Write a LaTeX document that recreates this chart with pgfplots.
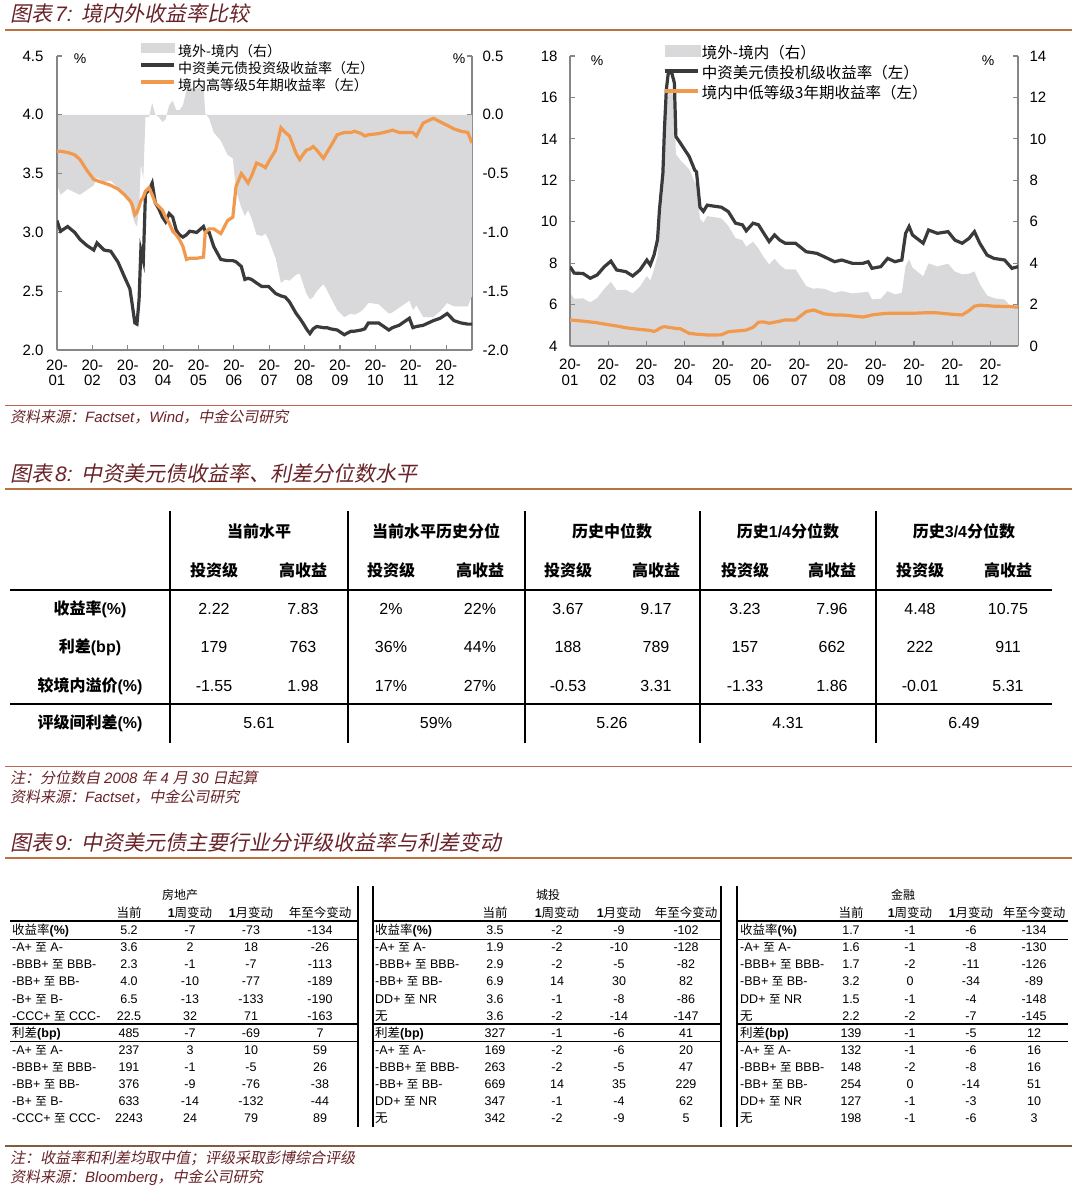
\documentclass[border=0pt]{standalone}
\usepackage{pgfplots}
\pgfplotsset{compat=1.18}
\usepackage{pgfplotstable}
\usepackage{fontspec}
\setmainfont{Liberation Sans}
\newfontfamily\cjk{Noto Sans CJK SC}
\newfontfamily\cjkit{Noto Sans CJK SC}[FakeSlant=0.2]
\definecolor{areagray}{RGB}{217,217,219}
\definecolor{blk}{RGB}{58,58,60}
\definecolor{org}{RGB}{241,154,78}
\definecolor{axgray}{RGB}{134,134,134}
\definecolor{ttl}{RGB}{105,35,40}
\definecolor{rulec}{RGB}{186,114,62}
\definecolor{rulef}{RGB}{192,100,84}
\definecolor{ruleb}{RGB}{128,92,66}

\pgfplotstableread{
m b o g
0.00 3.10 3.69 -0.59
0.10 3.01 3.69 -0.68
0.30 3.05 3.68 -0.63
0.50 3.00 3.66 -0.66
0.65 2.94 3.62 -0.68
0.84 2.89 3.53 -0.64
1.04 2.85 3.45 -0.60
1.13 2.91 3.44 -0.53
1.33 2.85 3.42 -0.57
1.52 2.84 3.40 -0.56
1.72 2.75 3.37 -0.62
1.91 2.62 3.32 -0.70
2.06 2.52 3.27 -0.75
2.12 2.40 3.24 -0.84
2.20 2.23 3.15 -0.92
2.26 2.22 3.17 -0.95
2.32 2.43 3.22 -0.79
2.37 2.85 3.27 -0.42
2.44 2.76 3.30 -0.54
2.50 3.33 3.35 -0.02
2.60 3.36 3.38 -0.02
2.69 3.42 3.32 0.10
2.78 3.25 3.25 0.00
2.88 3.20 3.22 -0.02
2.98 3.13 3.19 -0.06
3.07 3.09 3.13 -0.04
3.17 3.16 3.08 0.08
3.27 3.13 3.01 0.12
3.37 3.02 2.98 0.04
3.46 2.98 2.94 0.04
3.56 2.96 2.88 0.08
3.66 2.98 2.77 0.21
3.75 3.01 2.78 0.23
3.95 3.00 2.78 0.22
4.14 3.05 2.79 0.26
4.19 3.01 3.00 0.01
4.30 3.00 3.03 -0.03
4.43 2.88 3.03 -0.15
4.63 2.77 2.99 -0.22
4.82 2.76 3.10 -0.34
4.97 2.76 3.13 -0.37
5.06 2.75 3.39 -0.64
5.21 2.71 3.50 -0.79
5.31 2.60 3.46 -0.86
5.40 2.61 3.42 -0.81
5.50 2.60 3.48 -0.88
5.64 2.57 3.59 -1.02
5.79 2.54 3.57 -1.03
5.89 2.54 3.55 -1.01
5.98 2.54 3.60 -1.06
6.18 2.48 3.70 -1.22
6.33 2.46 3.89 -1.43
6.45 2.45 3.85 -1.40
6.57 2.41 3.82 -1.41
6.76 2.31 3.67 -1.36
6.86 2.27 3.62 -1.35
6.95 2.23 3.66 -1.43
7.05 2.18 3.70 -1.52
7.15 2.14 3.71 -1.57
7.24 2.18 3.73 -1.55
7.34 2.20 3.70 -1.50
7.53 2.19 3.63 -1.44
7.63 2.19 3.68 -1.49
7.73 2.18 3.73 -1.55
7.92 2.17 3.83 -1.66
8.12 2.13 3.85 -1.72
8.31 2.16 3.85 -1.69
8.41 2.16 3.86 -1.70
8.60 2.17 3.84 -1.67
8.70 2.18 3.82 -1.64
8.80 2.23 3.83 -1.60
9.09 2.23 3.84 -1.61
9.38 2.17 3.86 -1.69
9.48 2.19 3.87 -1.68
9.67 2.21 3.85 -1.64
9.96 2.27 3.85 -1.58
10.06 2.19 3.85 -1.66
10.16 2.20 3.82 -1.62
10.35 2.21 3.93 -1.72
10.64 2.25 3.97 -1.72
10.83 2.27 3.94 -1.67
11.03 2.31 3.91 -1.60
11.22 2.25 3.88 -1.63
11.42 2.23 3.86 -1.63
11.61 2.22 3.85 -1.63
11.73 2.22 3.76 -1.54
}\dataL

\pgfplotstableread{
m b o g
0.00 7.83 5.26 2.57
0.11 7.52 5.24 2.28
0.34 7.50 5.20 2.30
0.53 7.27 5.16 2.11
0.71 7.43 5.12 2.31
0.90 7.83 5.06 2.77
1.07 8.10 5.01 3.09
1.22 7.67 4.97 2.70
1.46 7.59 4.88 2.71
1.64 7.38 4.84 2.54
1.83 7.67 4.80 2.87
2.01 8.15 4.77 3.38
2.10 7.91 4.75 3.16
2.20 8.40 4.70 3.70
2.29 9.14 4.78 4.36
2.34 10.57 4.85 5.72
2.43 12.34 4.92 7.42
2.47 14.43 4.93 9.50
2.52 16.37 4.92 11.45
2.57 17.17 4.90 12.27
2.66 17.20 4.88 12.32
2.73 16.70 4.86 11.84
2.77 14.11 4.85 9.26
2.89 13.79 4.83 8.96
3.12 13.14 4.61 8.53
3.26 12.50 4.58 7.92
3.31 12.40 4.57 7.83
3.40 10.70 4.56 6.14
3.49 10.50 4.55 5.95
3.59 10.80 4.53 6.27
3.77 10.75 4.53 6.22
3.96 10.70 4.54 6.16
4.14 10.49 4.69 5.80
4.33 9.93 4.72 5.21
4.51 9.85 4.75 5.10
4.61 9.56 4.77 4.79
4.79 9.93 4.90 5.03
4.93 9.85 5.15 4.70
5.07 9.44 5.16 4.28
5.21 9.04 5.10 3.94
5.35 9.36 5.15 4.21
5.49 9.11 5.20 3.91
5.63 8.96 5.26 3.70
5.90 8.96 5.26 3.70
6.18 8.55 5.66 2.89
6.37 8.50 5.74 2.76
6.46 8.47 5.68 2.79
6.65 8.31 5.55 2.76
6.92 8.07 5.50 2.57
7.11 8.15 5.50 2.65
7.39 7.99 5.45 2.54
7.66 7.99 5.40 2.59
7.80 8.07 5.45 2.62
7.90 7.75 5.50 2.25
8.13 7.83 5.55 2.28
8.31 8.23 5.58 2.65
8.50 8.07 5.58 2.49
8.68 8.15 5.58 2.57
8.78 9.44 5.58 3.86
8.87 9.77 5.58 4.19
8.96 9.36 5.58 3.78
9.24 8.96 5.60 3.36
9.38 9.60 5.61 3.99
9.61 9.44 5.60 3.84
9.89 9.52 5.55 3.97
10.07 9.11 5.52 3.59
10.26 8.96 5.50 3.46
10.44 9.20 5.71 3.49
10.58 9.52 5.92 3.60
10.72 8.96 5.97 2.99
10.91 8.39 5.95 2.44
11.09 8.23 5.92 2.31
11.37 8.15 5.91 2.24
11.56 7.75 5.90 1.85
11.72 7.83 5.87 1.96
}\dataR

\pgfplotsset{
  chart/.style={
    scale only axis,
    anchor=south west,
    axis line style={-, axgray, line width=1.4pt},
    major tick style={axgray, line width=1.2pt},
    major tick length=5pt,
    tick align=inside,
    tick label style={font=\fontsize{15}{15}\selectfont, text=black},
    /pgf/number format/assume math mode=true,
  },
  mylegend/.style={
    legend cell align=left,
    legend image code/.code={\draw[##1, line width=4pt] (0pt,4.5pt) -- (33pt,4.5pt);},
    legend style={draw=none, fill=none, inner sep=0pt, outer sep=0pt},
  },
}

\newcommand\zhi{{\cjk\fontsize{11.5}{12}\selectfont 至}}
\newcommand\trow[6]{%
  \node[anchor=base west,inner sep=0pt] at (\tx,-#1pt) {#2};
  \node[anchor=base,inner sep=0pt] at (\ca,-#1pt) {#3};
  \node[anchor=base,inner sep=0pt] at (\cb,-#1pt) {#4};
  \node[anchor=base,inner sep=0pt] at (\cc,-#1pt) {#5};
  \node[anchor=base,inner sep=0pt] at (\cd,-#1pt) {#6};}

\begin{document}
\begin{tikzpicture}
\useasboundingbox (0pt,0pt) rectangle (1080pt,-1188pt);
\fill[white] (0pt,0pt) rectangle (1080pt,-1188pt);

% ---------------- titles and rules ----------------
\node[anchor=base west,inner sep=0pt,text=ttl] at (10pt,-22pt)
  {\fontsize{21}{21}\selectfont{\cjkit 图表}\hspace{3pt}{\itshape 7:}\hspace{9pt}{\cjkit 境内外收益率比较}};
\draw[rulec, line width=1.6pt] (5pt,-30pt) -- (1072pt,-30pt);

\node[anchor=base west,inner sep=0pt,text=ttl] at (10pt,-481pt)
  {\fontsize{21}{21}\selectfont{\cjkit 图表}\hspace{3pt}{\itshape 8:}\hspace{9pt}{\cjkit 中资美元债收益率、利差分位数水平}};
\draw[rulec, line width=1.6pt] (5pt,-489pt) -- (1072pt,-489pt);

\node[anchor=base west,inner sep=0pt,text=ttl] at (10pt,-850pt)
  {\fontsize{21}{21}\selectfont{\cjkit 图表}\hspace{3pt}{\itshape 9:}\hspace{9pt}{\cjkit 中资美元债主要行业分评级收益率与利差变动}};
\draw[rulec, line width=1.6pt] (5pt,-858pt) -- (1072pt,-858pt);

\draw[rulef, line width=1pt] (5pt,-405pt) -- (1072pt,-405pt);
\node[anchor=base west,inner sep=0pt,text=ttl] at (10pt,-422pt)
  {\fontsize{15}{15}\selectfont{\cjkit 资料来源：}{\itshape Factset}{\cjkit ，}{\itshape Wind}{\cjkit ，中金公司研究}};

\draw[rulef, line width=1pt] (5pt,-766pt) -- (1072pt,-766pt);
\node[anchor=base west,inner sep=0pt,text=ttl] at (10pt,-783pt)
  {\fontsize{15}{15}\selectfont{\cjkit 注：分位数自}\hspace{4pt}{\itshape 2008}\hspace{4pt}{\cjkit 年}\hspace{4pt}{\itshape 4}\hspace{4pt}{\cjkit 月}\hspace{4pt}{\itshape 30}\hspace{4pt}{\cjkit 日起算}};
\node[anchor=base west,inner sep=0pt,text=ttl] at (10pt,-802pt)
  {\fontsize{15}{15}\selectfont{\cjkit 资料来源：}{\itshape Factset}{\cjkit ，中金公司研究}};

\draw[ruleb, line width=2.2pt] (5pt,-1146pt) -- (1072pt,-1146pt);
\node[anchor=base west,inner sep=0pt,text=ttl] at (10pt,-1163pt)
  {\fontsize{15}{15}\selectfont{\cjkit 注：收益率和利差均取中值；评级采取彭博综合评级}};
\node[anchor=base west,inner sep=0pt,text=ttl] at (10pt,-1182pt)
  {\fontsize{15}{15}\selectfont{\cjkit 资料来源：}{\itshape Bloomberg}{\cjkit ，中金公司研究}};

% ---------------- chart 7 left ----------------
\begin{axis}[chart, at={(57pt,-350pt)}, width=415pt, height=294pt,
  xmin=0, xmax=11.73, ymin=-2, ymax=0.5,
  axis x line=none, axis y line*=right,
  ytick={-2,-1.5,-1,-0.5,0,0.5},
  yticklabels={-2.0,-1.5,-1.0,-0.5,0.0,0.5},
  yticklabel style={xshift=7pt}]
\addplot[fill=areagray, draw=none] table[x=m,y=g]{\dataL} \closedcycle;
\end{axis}
\begin{axis}[chart, mylegend, at={(57pt,-350pt)}, width=415pt, height=294pt,
  xmin=0, xmax=11.73, ymin=2, ymax=4.5,
  axis x line*=bottom, axis y line*=left,
  xtick={0,...,11},
  xticklabels={{20-\\01},{20-\\02},{20-\\03},{20-\\04},{20-\\05},{20-\\06},{20-\\07},{20-\\08},{20-\\09},{20-\\10},{20-\\11},{20-\\12}},
  xticklabel style={align=center, font=\fontsize{15}{15}\selectfont, yshift=-6pt},
  ytick={2,2.5,3,3.5,4,4.5}, yticklabels={2.0,2.5,3.0,3.5,4.0,4.5},
  yticklabel style={xshift=-10pt},
  legend style={at={(0.198,1.043)}, anchor=north west, row sep=0pt,
    font=\cjk\fontsize{14}{14}\selectfont,
    nodes={text height=10pt, text depth=3pt},
    /tikz/every even column/.append style={column sep=4pt}}]
\addlegendimage{legend image code/.code={\fill[areagray] (0pt,0pt) rectangle (33pt,9pt);}}
\addlegendentry{境外-境内（右）}
\addplot[blk, line width=3.2pt] table[x=m,y=b]{\dataL};
\addlegendentry{中资美元债投资级收益率（左）}
\addplot[org, line width=3.2pt] table[x=m,y=o]{\dataL};
\addlegendentry{境内高等级5年期收益率（左）}
\end{axis}
\node[font=\fontsize{14}{14}\selectfont] at (80pt,-59pt) {\%};
\node[font=\fontsize{14}{14}\selectfont] at (459pt,-59pt) {\%};

% ---------------- chart 7 right ----------------
\begin{axis}[chart, at={(570pt,-346pt)}, width=448pt, height=290pt,
  xmin=0, xmax=11.72, ymin=0, ymax=14,
  axis x line=none, axis y line*=right,
  ytick={0,2,...,14},
  yticklabels={0,2,4,6,8,10,12,14},
  yticklabel style={xshift=8pt}]
\addplot[fill=areagray, draw=none] table[x=m,y=g]{\dataR} \closedcycle;
\end{axis}
\begin{axis}[chart, mylegend, at={(570pt,-346pt)}, width=448pt, height=290pt,
  xmin=0, xmax=11.72, ymin=4, ymax=18,
  axis x line*=bottom, axis y line*=left,
  xtick={0,...,11},
  xticklabels={{20-\\01},{20-\\02},{20-\\03},{20-\\04},{20-\\05},{20-\\06},{20-\\07},{20-\\08},{20-\\09},{20-\\10},{20-\\11},{20-\\12}},
  xticklabel style={align=center, font=\fontsize{15}{16}\selectfont, yshift=-9pt},
  ytick={4,6,...,18},
  yticklabels={4,6,8,10,12,14,16,18},
  yticklabel style={xshift=-9pt},
  legend style={at={(0.207,1.038)}, anchor=north west, row sep=1pt,
    font=\cjk\fontsize{15.5}{15.5}\selectfont,
    nodes={text height=11pt, text depth=4pt},
    /tikz/every even column/.append style={column sep=7pt}}]
\addlegendimage{legend image code/.code={\fill[areagray] (0pt,-1pt) rectangle (35pt,10pt);}}
\addlegendentry{境外-境内（右）}
\addplot[blk, line width=3.2pt] table[x=m,y=b]{\dataR};
\addlegendentry{中资美元债投机级收益率（左）}
\addplot[org, line width=3.2pt] table[x=m,y=o]{\dataR};
\addlegendentry{境内中低等级3年期收益率（左）}
\end{axis}
\node[font=\fontsize{14}{14}\selectfont] at (597pt,-61pt) {\%};
\node[font=\fontsize{14}{14}\selectfont] at (988pt,-61pt) {\%};

% ---------------- table 8 ----------------
\foreach \x in {170,348,525,700,876} \draw[line width=2.2pt] (\x pt,-511pt) -- (\x pt,-743pt);
\draw[line width=2.6pt] (10pt,-590pt) -- (1052pt,-590pt);
\draw[line width=2.6pt] (10pt,-704pt) -- (1052pt,-704pt);
\begin{scope}[every node/.style={anchor=base, inner sep=0pt, font=\fontsize{16}{16}\selectfont}]
\node at (259pt,-537pt) {\cjk\bfseries 当前水平};
\node at (436pt,-537pt) {\cjk\bfseries 当前水平历史分位};
\node at (612pt,-537pt) {\cjk\bfseries 历史中位数};
\node at (788pt,-537pt) {{\cjk\bfseries 历史}\textbf{1/4}{\cjk\bfseries 分位数}};
\node at (964pt,-537pt) {{\cjk\bfseries 历史}\textbf{3/4}{\cjk\bfseries 分位数}};
\foreach \x in {214,391,568,745,920} \node at (\x pt,-576pt) {\cjk\bfseries 投资级};
\foreach \x in {303,480,656,832,1008} \node at (\x pt,-576pt) {\cjk\bfseries 高收益};
\node at (90pt,-614pt) {{\cjk\bfseries 收益率}\textbf{(\%)}};
\node at (90pt,-652pt) {{\cjk\bfseries 利差}\textbf{(bp)}};
\node at (90pt,-691pt) {{\cjk\bfseries 较境内溢价}\textbf{(\%)}};
\node at (90pt,-728pt) {{\cjk\bfseries 评级间利差}\textbf{(\%)}};
\foreach \x/\v in {214/2.22,303/7.83,391/2\%,480/22\%,568/3.67,656/9.17,745/3.23,832/7.96,920/4.48,1008/10.75}
  \node at (\x pt,-614pt) {\v};
\foreach \x/\v in {214/179,303/763,391/36\%,480/44\%,568/188,656/789,745/157,832/662,920/222,1008/911}
  \node at (\x pt,-652pt) {\v};
\foreach \x/\v in {214/-1.55,303/1.98,391/17\%,480/27\%,568/-0.53,656/3.31,745/-1.33,832/1.86,920/-0.01,1008/5.31}
  \node at (\x pt,-691pt) {\v};
\foreach \x/\v in {259/5.61,436/59\%,612/5.26,788/4.31,964/6.49}
  \node at (\x pt,-728pt) {\v};
\end{scope}

% ---------------- table 9 ----------------
\foreach \x in {358,373,721,737} \draw[line width=1.8pt] (\x pt,-886pt) -- (\x pt,-1127pt);
\foreach \a/\b in {10/358,373/721,737/1068} {
  \draw[line width=1.8pt] (\a pt,-921pt) -- (\b pt,-921pt);
  \draw[line width=1.0pt] (\a pt,-939pt) -- (\b pt,-939pt);
  \draw[line width=1.8pt] (\a pt,-1024pt) -- (\b pt,-1024pt);
  \draw[line width=1.0pt] (\a pt,-1041.5pt) -- (\b pt,-1041.5pt);
}
\begin{scope}[font=\fontsize{12.5}{13}\selectfont]
% left: real estate
\def\tx{12pt}\def\ca{129pt}\def\cb{190pt}\def\cc{251pt}\def\cd{320pt}
\node[anchor=base,inner sep=0pt] at (180pt,-899.5pt) {\cjk\fontsize{12}{12}\selectfont 房地产};
\node[anchor=base,inner sep=0pt] at (\ca,-917pt) {\cjk 当前};
\node[anchor=base,inner sep=0pt] at (\cb,-917pt) {\textbf{1}{\cjk 周变动}};
\node[anchor=base,inner sep=0pt] at (\cc,-917pt) {\textbf{1}{\cjk 月变动}};
\node[anchor=base,inner sep=0pt] at (\cd,-917pt) {\cjk 年至今变动};
\trow{934.6}{{\cjk 收益率}\textbf{(\%)}}{5.2}{-7}{-73}{-134}
\trow{951.7}{-A+ \zhi{} A-}{3.6}{2}{18}{-26}
\trow{968.8}{-BBB+ \zhi{} BBB-}{2.3}{-1}{-7}{-113}
\trow{985.9}{-BB+ \zhi{} BB-}{4.0}{-10}{-77}{-189}
\trow{1003.0}{-B+ \zhi{} B-}{6.5}{-13}{-133}{-190}
\trow{1020.1}{-CCC+ \zhi{} CCC-}{22.5}{32}{71}{-163}
\trow{1037.2}{{\cjk 利差}\textbf{(bp)}}{485}{-7}{-69}{7}
\trow{1054.3}{-A+ \zhi{} A-}{237}{3}{10}{59}
\trow{1071.4}{-BBB+ \zhi{} BBB-}{191}{-1}{-5}{26}
\trow{1088.5}{-BB+ \zhi{} BB-}{376}{-9}{-76}{-38}
\trow{1105.6}{-B+ \zhi{} B-}{633}{-14}{-132}{-44}
\trow{1122.7}{-CCC+ \zhi{} CCC-}{2243}{24}{79}{89}
% middle: LGFV
\def\tx{375pt}\def\ca{495pt}\def\cb{557pt}\def\cc{619pt}\def\cd{686pt}
\node[anchor=base,inner sep=0pt] at (548pt,-899.5pt) {\cjk\fontsize{12}{12}\selectfont 城投};
\node[anchor=base,inner sep=0pt] at (\ca,-917pt) {\cjk 当前};
\node[anchor=base,inner sep=0pt] at (\cb,-917pt) {\textbf{1}{\cjk 周变动}};
\node[anchor=base,inner sep=0pt] at (\cc,-917pt) {\textbf{1}{\cjk 月变动}};
\node[anchor=base,inner sep=0pt] at (\cd,-917pt) {\cjk 年至今变动};
\trow{934.6}{{\cjk 收益率}\textbf{(\%)}}{3.5}{-2}{-9}{-102}
\trow{951.7}{-A+ \zhi{} A-}{1.9}{-2}{-10}{-128}
\trow{968.8}{-BBB+ \zhi{} BBB-}{2.9}{-2}{-5}{-82}
\trow{985.9}{-BB+ \zhi{} BB-}{6.9}{14}{30}{82}
\trow{1003.0}{DD+ \zhi{} NR}{3.6}{-1}{-8}{-86}
\trow{1020.1}{\cjk 无}{3.6}{-2}{-14}{-147}
\trow{1037.2}{{\cjk 利差}\textbf{(bp)}}{327}{-1}{-6}{41}
\trow{1054.3}{-A+ \zhi{} A-}{169}{-2}{-6}{20}
\trow{1071.4}{-BBB+ \zhi{} BBB-}{263}{-2}{-5}{47}
\trow{1088.5}{-BB+ \zhi{} BB-}{669}{14}{35}{229}
\trow{1105.6}{DD+ \zhi{} NR}{347}{-1}{-4}{62}
\trow{1122.7}{\cjk 无}{342}{-2}{-9}{5}
% right: financials
\def\tx{740pt}\def\ca{851pt}\def\cb{910pt}\def\cc{971pt}\def\cd{1034pt}
\node[anchor=base,inner sep=0pt] at (903pt,-899.5pt) {\cjk\fontsize{12}{12}\selectfont 金融};
\node[anchor=base,inner sep=0pt] at (\ca,-917pt) {\cjk 当前};
\node[anchor=base,inner sep=0pt] at (\cb,-917pt) {\textbf{1}{\cjk 周变动}};
\node[anchor=base,inner sep=0pt] at (\cc,-917pt) {\textbf{1}{\cjk 月变动}};
\node[anchor=base,inner sep=0pt] at (\cd,-917pt) {\cjk 年至今变动};
\trow{934.6}{{\cjk 收益率}\textbf{(\%)}}{1.7}{-1}{-6}{-134}
\trow{951.7}{-A+ \zhi{} A-}{1.6}{-1}{-8}{-130}
\trow{968.8}{-BBB+ \zhi{} BBB-}{1.7}{-2}{-11}{-126}
\trow{985.9}{-BB+ \zhi{} BB-}{3.2}{0}{-34}{-89}
\trow{1003.0}{DD+ \zhi{} NR}{1.5}{-1}{-4}{-148}
\trow{1020.1}{\cjk 无}{2.2}{-2}{-7}{-145}
\trow{1037.2}{{\cjk 利差}\textbf{(bp)}}{139}{-1}{-5}{12}
\trow{1054.3}{-A+ \zhi{} A-}{132}{-1}{-6}{16}
\trow{1071.4}{-BBB+ \zhi{} BBB-}{148}{-2}{-8}{16}
\trow{1088.5}{-BB+ \zhi{} BB-}{254}{0}{-14}{51}
\trow{1105.6}{DD+ \zhi{} NR}{127}{-1}{-3}{10}
\trow{1122.7}{\cjk 无}{198}{-1}{-6}{3}
\end{scope}
\end{tikzpicture}
\end{document}
